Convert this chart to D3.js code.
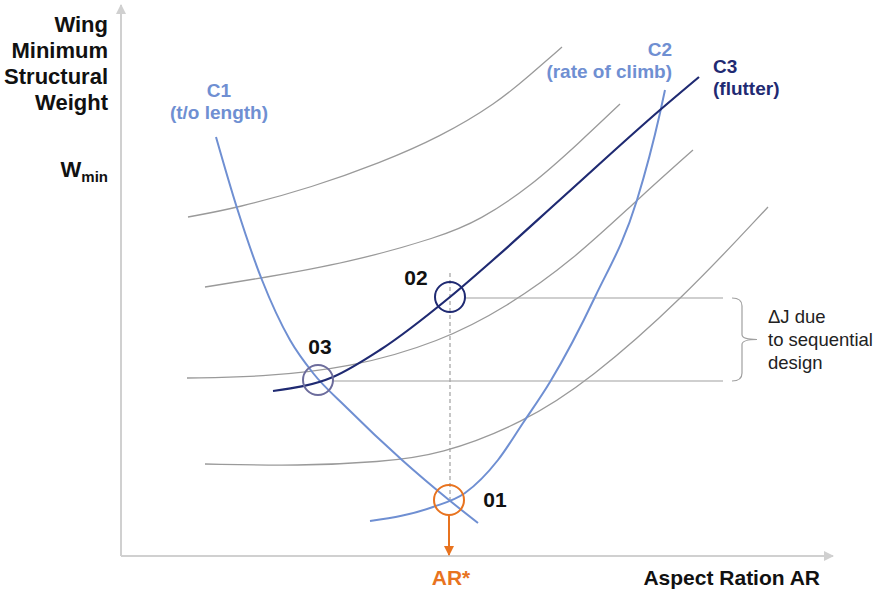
<!DOCTYPE html>
<html><head><meta charset="utf-8">
<script src="https://cdn.jsdelivr.net/npm/d3@7"></script>
<style>body{margin:0;background:#fff}svg{display:block;font-family:"Liberation Sans",Arial,sans-serif}</style>
</head><body>
<svg id="c" width="880" height="591"></svg>
<script>
// Data (chart units: AR offset, Wmin offset)
const contourA = [[67,339],[116,348],[192,369],[259,393],[319,419],[376,453],[409,481],[441,509]];
const contourB = [[84,269],[141,278],[226,293],[319,319],[359,336],[409,369],[459,414],[499,452]];
const contourC = [[66,178],[139,179],[229,188],[319,214],[386,249],[452,296],[516,356],[572,406]];
const contourD = [[84,92],[179,90],[259,94],[319,101],[402,133],[469,176],[562,258],[647,349]];
const c1 = [[95,419],[116,348],[141,276],[169,216],[192,183],[226,148],[281,96],[328,56],[357,33]];
const c2 = [[249,35],[312,49],[344,63],[377,96],[402,133],[429,174],[474,259],[516,356],[539,443],[544,466]];
const c3 = [[152,165],[212,179],[259,206],[329,259],[372,296],[442,359],[539,446],[578,479]];
const optima = [
  {name:"03", p:[197,176], color:"#6c6c9c", lx:2,   ly:-26},
  {name:"02", p:[329,259], color:"#1f2a72", lx:-34, ly:-12},
  {name:"01", p:[328,56],  color:"#e8731f", lx:46,  ly:7}
];
const deltaJ = {top:258, bottom:175};
const arStar = 328;

const svg = d3.select("#c");
const x = d3.scaleLinear().domain([0,710]).range([121,831]);
const y = d3.scaleLinear().domain([0,550]).range([556,6]);
const line = d3.line().x(d=>x(d[0])).y(d=>y(d[1])).curve(d3.curveMonotoneX);
const smooth = d3.line().x(d=>x(d[0])).y(d=>y(d[1])).curve(d3.curveBasis);

const defs = svg.append("defs");
defs.append("marker").attr("id","ax").attr("viewBox","0 0 10 10").attr("refX",9).attr("refY",5)
  .attr("markerWidth",6).attr("markerHeight",5).attr("markerUnits","strokeWidth").attr("orient","auto")
  .append("path").attr("d","M0,0L10,5L0,10Z").attr("fill","#d0d0d0");
defs.append("marker").attr("id","or").attr("viewBox","0 0 10 10").attr("refX",9).attr("refY",5)
  .attr("markerWidth",6).attr("markerHeight",5).attr("markerUnits","strokeWidth").attr("orient","auto")
  .append("path").attr("d","M0,0L10,5L0,10Z").attr("fill","#e8731f");

// axes
svg.append("line").attr("x1",x(0)).attr("y1",y(0)).attr("x2",x(0)).attr("y2",y(551))
  .attr("stroke","#d0d0d0").attr("stroke-width",2).attr("marker-end","url(#ax)");
svg.append("line").attr("x1",x(0)).attr("y1",y(0)).attr("x2",x(712)).attr("y2",y(0))
  .attr("stroke","#d0d0d0").attr("stroke-width",2).attr("marker-end","url(#ax)");

// contours
[contourA,contourB,contourC,contourD].forEach(c=>{
  svg.append("path").attr("d",smooth(c)).attr("fill","none").attr("stroke","#9a9a9a").attr("stroke-width",1.3);
});

// helper lines
svg.append("line").attr("x1",x(arStar+1)).attr("x2",x(arStar+1)).attr("y1",y(deltaJ.top+25)).attr("y2",y(56))
  .attr("stroke","#a0a0a0").attr("stroke-width",1.2).attr("stroke-dasharray","4,3");
svg.append("line").attr("x1",x(344)).attr("x2",x(602)).attr("y1",y(deltaJ.top)).attr("y2",y(deltaJ.top))
  .attr("stroke","#a0a0a0").attr("stroke-width",1.2);
svg.append("line").attr("x1",x(212)).attr("x2",x(602)).attr("y1",y(deltaJ.bottom)).attr("y2",y(deltaJ.bottom))
  .attr("stroke","#a0a0a0").attr("stroke-width",1.2);

// bracket
const bx = x(611), tY = y(deltaJ.top), bY = y(deltaJ.bottom), mY = (tY+bY)/2;
svg.append("path").attr("d",
  `M${bx},${tY} Q${bx+10},${tY} ${bx+10},${tY+8} L${bx+10},${mY-5} Q${bx+10},${mY} ${bx+25},${mY} Q${bx+10},${mY} ${bx+10},${mY+5} L${bx+10},${bY-8} Q${bx+10},${bY} ${bx},${bY}`)
  .attr("fill","none").attr("stroke","#a0a0a0").attr("stroke-width",1.2);
const dj = svg.append("text").attr("x",768).attr("y",y(deltaJ.top)+25).attr("font-size",18.5).attr("fill","#222");
["ΔJ due","to sequential","design"].forEach((t,i)=>dj.append("tspan").attr("x",768).attr("dy",i?23:0).text(t));

// constraint curves
svg.append("path").attr("d",line(c1)).attr("fill","none").attr("stroke","#6f8fd2").attr("stroke-width",2);
svg.append("path").attr("d",line(c2)).attr("fill","none").attr("stroke","#6f8fd2").attr("stroke-width",2);
svg.append("path").attr("d",line(c3)).attr("fill","none").attr("stroke","#1f2a72").attr("stroke-width",2.2);

// optimum circles
optima.forEach(o=>{
  svg.append("circle").attr("cx",x(o.p[0])).attr("cy",y(o.p[1])).attr("r",15)
    .attr("fill","none").attr("stroke",o.color).attr("stroke-width",2);
  svg.append("text").attr("x",x(o.p[0])+o.lx).attr("y",y(o.p[1])+o.ly).attr("text-anchor","middle")
    .attr("font-size",21).attr("font-weight","bold").attr("fill","#111").text(o.name);
});

// AR* arrow
svg.append("line").attr("x1",x(arStar)).attr("x2",x(arStar)).attr("y1",y(56)+15).attr("y2",y(1))
  .attr("stroke","#e8731f").attr("stroke-width",2).attr("marker-end","url(#or)");
svg.append("text").attr("x",x(arStar)+2).attr("y",585).attr("text-anchor","middle").attr("font-size",21)
  .attr("font-weight","bold").attr("fill","#e8731f").text("AR*");

// labels
const yl = svg.append("text").attr("text-anchor","end").attr("font-size",22).attr("font-weight","bold").attr("fill","#111");
["Wing","Minimum","Structural","Weight"].forEach((t,i)=>yl.append("tspan").attr("x",108).attr("y",32+i*26).text(t));
const wm = svg.append("text").attr("text-anchor","end").attr("x",108).attr("y",177).attr("font-weight","bold").attr("fill","#111");
wm.append("tspan").attr("font-size",22).text("W");
wm.append("tspan").attr("font-size",15).attr("dy",5).text("min");

svg.append("text").attr("x",820).attr("y",585).attr("text-anchor","end").attr("font-size",21)
  .attr("font-weight","bold").attr("fill","#111").text("Aspect Ration AR");

function label(lines, xx, yy, anchor, color){
  const t = svg.append("text").attr("text-anchor",anchor).attr("font-size",19).attr("font-weight","bold").attr("fill",color);
  lines.forEach((s,i)=>t.append("tspan").attr("x",xx).attr("y",yy+i*22).text(s));
}
label(["C1","(t/o length)"], 219, 97, "middle", "#6f8fd2");
label(["C2","(rate of climb)"], 672, 56, "end", "#6f8fd2");
label(["C3","(flutter)"], 713, 73, "start", "#1f2a72");
</script>
</body></html>
